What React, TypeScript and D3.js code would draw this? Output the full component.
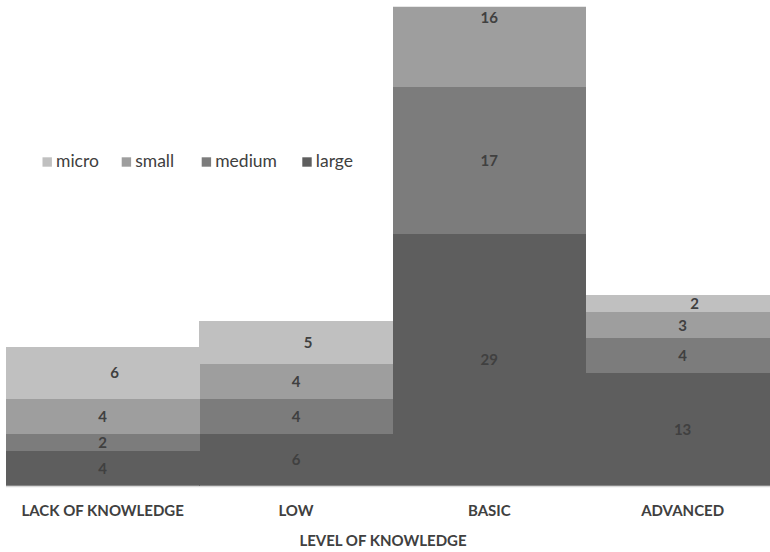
import React from "react";
import * as d3 from "d3";

// Companies by level of knowledge, split by company size
const categories = ["LACK OF KNOWLEDGE", "LOW", "BASIC", "ADVANCED"];
const seriesNames = ["large", "medium", "small", "micro"]; // stacking order, bottom to top
const legendOrder = ["micro", "small", "medium", "large"];
const large = [4, 6, 29, 13];
const medium = [2, 4, 17, 4];
const small = [4, 4, 16, 3];
const micro = [6, 5, 0, 2];
const axisTitle = "LEVEL OF KNOWLEDGE";
const yMax = 55.25;

const colors: Record<string, string> = {
  micro: "#c0c0c0",
  small: "#9e9e9e",
  medium: "#7c7c7c",
  large: "#5e5e5e",
};

const W = 770;
const H = 552;
const plot = { left: 6, right: 779.3, top: 6.7, bottom: 485.7 };
const font = "Lato, 'Open Sans', sans-serif";
const textColor = "#404040";

export default function App() {
  const rows = categories.map((c, i) => ({
    category: c,
    large: large[i],
    medium: medium[i],
    small: small[i],
    micro: micro[i],
  }));
  const stacked = d3.stack<any>().keys(seriesNames)(rows);

  const x = d3.scaleBand<string>().domain(categories).range([plot.left, plot.right]).padding(0);
  const y = d3.scaleLinear().domain([0, yMax]).range([plot.bottom, plot.top]);

  // micro labels sit a little to the right of the band centre
  const labelShift: Record<string, number> = { micro: 12 };

  const legendX: Record<string, number> = { micro: 42.5, small: 121.7, medium: 201.7, large: 302.3 };

  return (
    <svg
      width={W}
      height={H}
      style={{ position: "absolute", left: 0, top: 0, background: "#ffffff" }}
      fontFamily={font}
    >
      <defs>
        <clipPath id="plot-clip">
          <rect x={0} y={plot.top} width={W} height={plot.bottom - plot.top} />
        </clipPath>
      </defs>
      <g clipPath="url(#plot-clip)" shapeRendering="crispEdges">
        {stacked.map((s) =>
          s.map((d, i) => {
            const v = d[1] - d[0];
            if (v <= 0) return null;
            return (
              <rect
                key={s.key + i}
                x={x(categories[i])!}
                width={x.bandwidth() + 0.5}
                y={y(d[1])}
                height={y(d[0]) - y(d[1])}
                fill={colors[s.key]}
              />
            );
          })
        )}
      </g>
      <line x1={plot.left} x2={W} y1={486.6} y2={486.6} stroke="#d9d9d9" strokeWidth={1.2} />
      {stacked.map((s) =>
        s.map((d, i) => {
          const v = d[1] - d[0];
          if (v <= 0) return null;
          return (
            <text
              key={"l" + s.key + i}
              x={x(categories[i])! + x.bandwidth() / 2 + (labelShift[s.key] || 0)}
              y={y((d[0] + d[1]) / 2)}
              dy="0.36em"
              textAnchor="middle"
              fontSize={15}
              fontWeight="bold"
              fill={textColor}
            >
              {v}
            </text>
          );
        })
      )}
      {categories.map((c) => (
        <text
          key={c}
          x={x(c)! + x.bandwidth() / 2}
          y={516}
          textAnchor="middle"
          fontSize={15}
          fontWeight="bold"
          fill={textColor}
        >
          {c}
        </text>
      ))}
      <text x={383} y={546} textAnchor="middle" fontSize={15} fontWeight="bold" fill={textColor}>
        {axisTitle}
      </text>
      {legendOrder.map((k) => (
        <g key={k} transform={`translate(${legendX[k]},0)`}>
          <rect x={0} y={157.3} width={9.4} height={9.4} fill={colors[k]} />
          <text x={13.5} y={167.3} fontSize={17.5} fill={textColor}>
            {k}
          </text>
        </g>
      ))}
    </svg>
  );
}
